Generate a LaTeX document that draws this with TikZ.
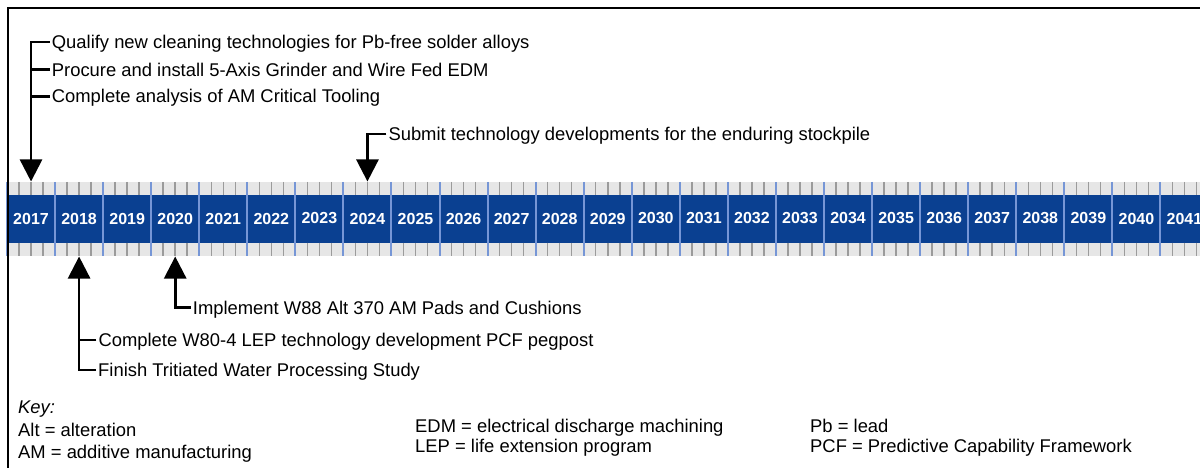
\documentclass[tikz,border=0pt]{standalone}
\usepackage{fontspec}
\setmainfont{Liberation Sans}
\usetikzlibrary{arrows.meta}
\definecolor{bandblue}{RGB}{10,64,145}
\definecolor{divblue}{RGB}{118,150,214}
\definecolor{bandgray}{RGB}{230,230,230}
\definecolor{tickgray}{RGB}{155,155,155}
\tikzset{
  lbl/.style={anchor=west, font=\fontsize{18.4}{22}\selectfont, inner xsep=2pt, inner ysep=0pt, text height=13.2pt, text depth=0pt},
  keytxt/.style={anchor=west, font=\fontsize{18.4}{22}\selectfont, inner sep=0pt, text height=13.2pt, text depth=0pt},
  keyhead/.style={keytxt, font=\fontsize{18.4}{22}\selectfont\itshape},
  yearlbl/.style={font=\fontsize{16}{18}\selectfont\bfseries, text=white, inner sep=0pt},
  conn/.style={line width=2.6pt, line join=miter},
  arr/.style={conn, -{Triangle[width=22pt,length=22pt]}},
  qtick/.style={tickgray, line width=1.5pt},
  divtick/.style={divblue, line width=2pt},
  frameline/.style={line width=1.8pt}
}
\begin{document}
\begin{tikzpicture}[x=1pt,y=-1pt]
\useasboundingbox (0,0) rectangle (1200,468);
\begin{scope}
  \clip (0,0) rectangle (1200,468);
  \fill[bandgray] (8,182) rectangle (1200,256);
  \fill[bandblue] (8,195) rectangle (1200,242.5);
  \foreach \i in {0,...,24}{
    \pgfmathsetmacro\xo{7+48.06*\i}
    \foreach \k in {1,2,3}{
      \draw[qtick] ({\xo+12.015*\k},182) -- ++(0,13);
      \draw[qtick] ({\xo+12.015*\k},242.5) -- ++(0,13.5);
    }
    \draw[divtick] (\xo,182) -- (\xo,256);
    \pgfmathtruncatemacro\yr{2017+\i}
    \node[yearlbl] (y\yr) at ({\xo+24.03},218.5) {\yr};
  }
\end{scope}
\draw[frameline] (8,468) -- (8,8) -- (1200,8);

\coordinate (a2017) at (31.03,181.5);
\coordinate (a2024) at (367.45,181.5);
\coordinate (a2018) at (79.09,256.5);
\coordinate (a2020) at (175.21,256.5);

\node[lbl] (q) at (49.7,42) {Qualify new cleaning technologies for Pb-free solder alloys};
\node[lbl] (p) at (49.7,69.5) {Procure and install 5-Axis Grinder and Wire Fed EDM};
\node[lbl] (c) at (49.7,96.3) {Complete analysis of AM Critical Tooling};
\node[lbl] (s) at (386.3,134) {Submit technology developments for the enduring stockpile};
\node[lbl] (imp) at (190.7,307.5) {Implement W88 Alt 370 AM Pads and Cushions};
\node[lbl] (cw) at (96.3,340) {Complete W80-4 LEP technology development PCF pegpost};
\node[lbl] (fin) at (96,370) {Finish Tritiated Water Processing Study};

\draw[arr] (q.west) -| (a2017);
\draw[conn] (p.west) -- (p.west -| a2017);
\draw[conn] (c.west) -- (c.west -| a2017);
\draw[arr] (s.west) -| (a2024);
\draw[arr] (imp.west) -| (a2020);
\draw[arr] (fin.west) -| (a2018);
\draw[conn] (cw.west) -- (cw.west -| a2018);

\node[keyhead] (key) at (18,407) {Key:};
\node[keytxt] (k1) at (18,430) {Alt = alteration};
\node[keytxt] (k2) at (18,452) {AM = additive manufacturing};
\node[keytxt] (k3) at (415,426) {EDM = electrical discharge machining};
\node[keytxt] (k4) at (415,446) {LEP = life extension program};
\node[keytxt] (k5) at (810,426) {Pb = lead};
\node[keytxt] (k6) at (810,446) {PCF = Predictive Capability Framework};
\end{tikzpicture}
\end{document}
